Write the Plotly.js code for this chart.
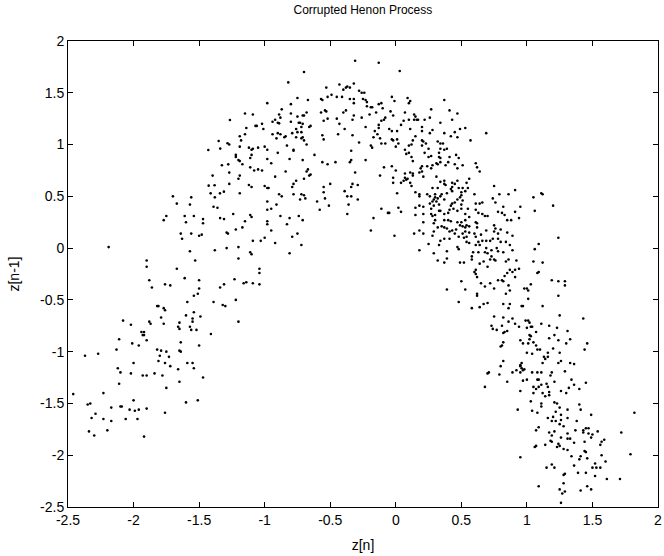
<!DOCTYPE html>
<html>
<head>
<meta charset="utf-8">
<script src="https://cdn.plot.ly/plotly-3.0.1.min.js"></script>
<style>html,body{margin:0;padding:0;background:#fff;}#chart{width:664px;height:556px;}</style>
</head>
<body>
<div id="chart"></div>
<script>
// Points, grouped by region of the picture: [z[n], z[n-1]]
const upperLeftEdge = [[-1.265,1.237],[-1.43,0.948],[-1.351,1.035],[-1.339,0.961],[-1.283,1.012],[-1.326,0.8],[-1.278,0.809],[-1.397,0.7],[-1.27,0.729],[-1.427,0.603],[-1.382,0.607],[-1.27,0.62],[-1.412,0.529],[-1.341,0.529],[-1.311,0.545]];
const upperLeft = [[-0.31,1.81],[-0.70,1.70],[-0.82,1.60],[-0.98,1.40],[-0.75,1.45],[-0.67,1.43],[-0.80,1.39],[-0.53,1.55],[-0.43,1.58],[-0.40,1.53],[-0.38,1.55],[-0.37,1.56],[-0.35,1.55],[-0.32,1.59],[-0.28,1.52],[-0.26,1.50],[-0.24,1.50],[-0.25,1.44],[-0.23,1.43],[-0.22,1.41],[-0.22,1.37],[-0.19,1.36],[-0.18,1.36],[-0.32,1.44],[-0.32,1.40],[-0.35,1.44],[-0.41,1.46],[-0.45,1.46],[-0.49,1.48],[-0.52,1.46],[-0.57,1.44],[-0.56,1.43],[-0.54,1.33],[-0.53,1.32],[-0.57,1.31],[-0.40,1.31],[-0.38,1.33],[-0.32,1.28],[-0.33,1.24],[-0.26,1.26],[-0.20,1.29],[-0.23,1.17],[-0.17,1.07],[-0.19,0.99],[-0.18,0.97],[-0.28,1.02],[-0.33,1.09],[-0.39,1.15],[-0.44,1.10],[-0.43,1.20],[-0.45,1.25],[-0.52,1.25],[-0.55,1.23],[-0.56,1.09],[-0.55,1.05],[-0.62,0.90],[-0.56,0.83],[-0.52,0.81],[-0.46,0.83],[-0.34,0.94],[-0.34,0.85],[-0.35,0.83],[-0.23,0.85],[-0.31,0.73],[-0.33,0.62],[-0.34,0.59],[-0.29,0.61],[-0.39,0.55],[-0.50,0.62],[-0.55,0.59],[-0.55,0.54],[-0.87,1.34],[-0.89,1.29],[-0.88,1.26],[-0.92,1.24],[-0.94,1.22],[-0.90,1.21],[-0.89,1.205],[-0.80,1.30],[-0.75,1.27],[-0.71,1.28],[-0.70,1.28],[-0.68,1.31],[-0.80,1.22],[-0.74,1.21],[-0.73,1.21],[-0.71,1.20],[-0.65,1.18],[-0.66,1.17],[-0.72,1.17],[-0.76,1.15],[-0.79,1.11],[-0.76,1.07],[-0.75,1.12],[-0.72,1.12],[-0.71,1.07],[-0.72,1.06],[-0.70,1.04],[-0.68,1.00],[-0.83,0.99],[-0.84,1.08],[-0.85,1.07],[-0.88,1.10],[-0.90,1.11],[-0.94,1.10],[-0.91,1.06],[-0.90,0.92],[-0.81,0.86],[-0.78,0.94],[-0.78,0.95],[-0.71,0.85],[-0.68,0.74],[-0.67,0.76],[-0.65,0.71],[-0.66,0.70],[-0.70,0.67],[-0.76,0.65],[-0.78,0.62],[-0.79,0.59],[-0.84,0.74],[-0.92,0.69],[-0.98,0.58],[-1.00,0.60],[-0.97,0.58],[-0.89,0.52],[-0.78,0.52],[-0.72,0.52],[-1.15,1.30],[-1.09,1.29],[-1.14,1.16],[-1.07,1.18],[-1.06,1.18],[-1.02,1.20],[-1.01,1.15],[-1.15,1.10],[-1.19,1.08],[-1.18,1.04],[-1.19,0.98],[-1.27,1.00],[-1.12,0.97],[-1.09,0.96],[-1.10,0.95],[-1.05,0.97],[-1.00,0.98],[-0.98,0.95],[-1.10,0.90],[-1.11,0.87],[-1.22,0.90],[-1.22,0.88],[-1.20,0.85],[-1.19,0.84],[-1.17,0.81],[-0.98,0.86],[-0.95,0.82],[-1.11,0.78],[-1.08,0.75],[-1.05,0.76],[-1.02,0.75],[-1.19,0.70],[-1.20,0.67],[-1.12,0.61],[-1.10,0.59],[-1.19,0.53]];
const upperRight = [[-0.13,1.79],[0.03,1.71],[-0.03,1.46],[-0.01,1.42],[0.09,1.45],[0.11,1.42],[0.10,1.40],[0.37,1.43],[-0.13,1.39],[-0.11,1.40],[-0.10,1.35],[-0.15,1.31],[-0.04,1.32],[-0.02,1.28],[-0.09,1.24],[-0.11,1.23],[-0.08,1.26],[-0.13,1.19],[-0.13,1.16],[-0.16,1.13],[-0.14,1.10],[-0.12,1.06],[-0.05,1.15],[-0.03,1.13],[0.01,1.13],[0.07,1.31],[0.06,1.23],[0.10,1.24],[0.14,1.29],[0.15,1.27],[0.14,1.24],[0.16,1.24],[0.17,1.24],[0.22,1.24],[0.27,1.34],[0.26,1.26],[0.41,1.33],[0.43,1.24],[0.47,1.30],[0.34,1.21],[0.20,1.17],[0.20,1.13],[0.28,1.14],[0.26,1.11],[0.11,1.15],[0.04,1.19],[-0.11,1.01],[-0.08,1.01],[-0.03,1.05],[-0.02,1.04],[0.01,1.05],[0.02,1.01],[0.00,0.98],[0.13,1.04],[0.15,1.08],[0.12,1.00],[0.10,0.99],[0.07,0.95],[0.08,0.91],[0.10,0.92],[0.12,0.88],[0.13,0.84],[0.20,1.04],[0.21,1.03],[0.20,0.99],[0.23,1.01],[0.25,0.96],[0.22,0.92],[0.25,0.88],[0.27,0.89],[0.32,1.03],[0.34,1.01],[0.36,1.01],[0.34,0.96],[0.37,0.95],[0.39,0.96],[0.33,0.92],[0.33,0.88],[0.34,0.87],[0.41,0.88],[0.42,1.08],[0.45,1.12],[0.49,1.15],[0.53,1.16],[0.47,1.07],[0.37,1.11],[0.57,1.04],[0.69,1.11],[0.46,0.90],[0.48,0.87],[0.45,0.81],[0.47,0.77],[0.51,0.80],[0.40,0.83],[0.38,0.80],[0.34,0.83],[0.32,0.81],[0.31,0.82],[0.28,0.80],[0.27,0.77],[0.24,0.79],[0.20,0.79],[0.19,0.77],[0.20,0.74],[0.21,0.69],[0.18,0.73],[0.13,0.72],[0.11,0.73],[0.13,0.70],[0.09,0.67],[0.07,0.68],[0.06,0.65],[0.04,0.63],[0.08,0.66],[0.11,0.63],[0.12,0.60],[0.00,0.75],[-0.09,0.78],[-0.03,0.79],[-0.02,0.68],[-0.12,0.70],[-0.02,0.63],[0.07,0.72],[0.31,0.69],[0.34,0.64],[0.37,0.65],[0.37,0.62],[0.38,0.61],[0.43,0.63],[0.45,0.62],[0.47,0.65],[0.48,0.58],[0.51,0.58],[0.54,0.63],[0.55,0.58],[0.56,0.67],[0.61,0.82],[0.62,0.78],[0.64,0.74],[0.75,0.60],[0.91,0.56],[0.50,0.54],[0.43,0.59],[0.42,0.57],[0.32,0.58],[0.28,0.58],[0.30,0.52],[0.35,0.52],[0.15,0.54],[0.01,0.53],[0.18,0.52],[0.39,0.53],[0.60,0.52],[0.79,0.52],[0.86,0.52],[1.11,0.53]];
const leftArmUpper = [[-2.19,0.01],[-1.90,-0.12],[-1.90,-0.18],[-1.88,-0.31],[-1.86,-0.38],[-1.76,-0.35],[-1.72,-0.36],[-1.67,-0.20],[-1.61,-0.29],[-1.77,0.27],[-1.75,0.31],[-1.70,0.50],[-1.67,0.43],[-1.56,0.49],[-1.57,0.42],[-1.61,0.31],[-1.60,0.25],[-1.54,0.31],[-1.47,0.28],[-1.47,0.24],[-1.64,0.14],[-1.63,0.09],[-1.56,0.14],[-1.50,0.12],[-1.48,0.13],[-1.57,-0.03],[-1.53,-0.12],[-1.50,-0.31],[-1.50,-0.39],[-1.51,-0.44],[-1.54,-0.46],[-1.59,-0.52],[-1.60,-0.65],[-1.54,-0.62],[-1.55,-0.68],[-1.55,-0.71],[-1.52,-0.79],[-1.49,-0.66],[-1.57,-0.76],[-1.56,-0.79],[-1.65,-0.72],[-1.65,-0.78],[-1.66,-0.76],[-1.64,-0.91],[-1.65,-0.99],[-1.64,-1.00],[-1.50,-0.94],[-1.41,-0.83],[-1.39,-0.52],[-1.38,-0.02],[-1.34,-0.38],[-1.31,-0.35],[-1.32,-0.55],[-1.30,-0.56],[-1.29,0.00],[-1.29,0.15],[-1.28,0.14],[-1.31,0.28],[-1.34,0.29],[-1.36,0.39],[-1.39,0.40],[-1.38,0.49],[-1.82,-0.56],[-1.81,-0.56],[-1.77,-0.58],[-1.76,-0.60],[-1.79,-0.67],[-1.77,-0.73],[-1.88,-0.71],[-1.87,-0.73],[-1.94,-0.81],[-1.92,-0.81],[-1.92,-0.84],[-1.90,-0.89],[-1.93,-0.84],[-1.96,-0.94],[-2.01,-0.92],[-2.08,-0.70],[-2.02,-0.74],[-2.11,-0.88],[-2.13,-0.98],[-1.82,-0.98],[-1.79,-0.99],[-1.75,-1.00],[-2.27,-1.02]];
const centreLeft = [[-0.87,0.50],[-0.70,0.51],[-0.69,0.48],[-0.73,0.47],[-0.60,0.45],[-0.54,0.48],[-0.51,0.41],[-0.37,0.50],[-0.34,0.50],[-0.36,0.42],[-0.29,0.47],[-0.58,0.37],[-0.37,0.33],[-0.17,0.29],[-0.19,0.17],[-0.98,0.45],[-0.91,0.42],[-0.95,0.38],[-0.98,0.37],[-1.24,0.33],[-1.11,0.32],[-1.10,0.30],[-1.15,0.26],[-0.98,0.26],[-0.98,0.23],[-0.88,0.31],[-0.81,0.29],[-0.83,0.23],[-0.74,0.31],[-0.71,0.27],[-1.17,0.20],[-1.22,0.18],[-0.95,0.17],[-0.75,0.14],[-0.79,0.11],[-1.00,0.10],[-1.03,0.07],[-1.09,0.07],[-0.92,0.05],[-0.72,0.03],[-0.81,-0.05],[-1.20,0.01],[-1.11,-0.04],[-1.10,-0.06],[-1.20,-0.10],[-1.04,-0.20],[-1.04,-0.24],[-1.23,-0.30],[-1.16,-0.34],[-1.14,-0.33],[-1.09,-0.34],[-1.04,-0.35],[-1.22,-0.50],[-1.20,-0.71]];
const centreRight = [[0.18,0.50],[0.24,0.52],[0.26,0.50],[0.34,0.50],[0.30,0.49],[0.32,0.48],[0.29,0.47],[0.31,0.45],[0.28,0.45],[0.26,0.43],[0.37,0.47],[0.33,0.42],[0.29,0.41],[0.43,0.55],[0.50,0.51],[0.53,0.55],[0.49,0.49],[0.47,0.47],[0.45,0.44],[0.43,0.43],[0.42,0.41],[0.51,0.46],[0.50,0.42],[0.61,0.43],[0.64,0.43],[0.66,0.44],[0.55,0.38],[0.63,0.34],[0.66,0.33],[0.68,0.31],[0.70,0.31],[0.61,0.37],[0.74,0.48],[0.76,0.44],[0.82,0.40],[0.78,0.35],[0.81,0.34],[0.83,0.32],[0.85,0.27],[0.88,0.27],[0.91,0.35],[0.95,0.40],[0.94,0.29],[-0.11,0.38],[-0.06,0.34],[-0.05,0.34],[0.02,0.39],[0.04,0.35],[0.15,0.39],[0.18,0.41],[0.21,0.40],[0.15,0.32],[0.21,0.33],[0.27,0.38],[0.27,0.33],[0.28,0.31],[0.30,0.32],[0.33,0.36],[0.34,0.36],[0.37,0.33],[0.37,0.27],[0.40,0.34],[0.41,0.37],[0.44,0.38],[0.47,0.36],[0.50,0.38],[0.53,0.33],[0.56,0.30],[0.53,0.27],[0.50,0.25],[0.47,0.25],[0.42,0.26],[0.40,0.27],[0.30,0.27],[0.29,0.24],[0.21,0.25],[0.35,0.21],[0.32,0.20],[0.37,0.20],[0.39,0.19],[0.41,0.16],[0.43,0.17],[0.46,0.18],[0.49,0.22],[0.51,0.21],[0.53,0.20],[0.54,0.22],[0.56,0.21],[0.53,0.16],[0.56,0.15],[0.61,0.25],[0.62,0.24],[0.62,0.20],[0.51,0.14],[0.45,0.14],[0.48,0.11],[0.54,0.11],[0.60,0.14],[0.61,0.11],[0.65,0.13],[0.69,0.17],[0.75,0.22],[0.76,0.19],[0.75,0.16],[0.78,0.14],[0.80,0.18],[0.85,0.15],[0.89,0.12],[0.87,0.03],[0.84,0.06],[0.80,0.06],[0.78,0.09],[0.74,0.09],[0.72,0.07],[0.69,0.07],[0.66,0.07],[0.64,0.03],[0.63,0.06],[0.61,0.03],[0.56,0.05],[0.54,0.06],[0.52,0.10],[0.47,0.01],[0.48,-0.01],[0.37,0.09],[0.34,0.07],[0.33,0.03],[0.41,0.09],[0.28,0.12],[0.29,0.16],[0.21,0.14],[0.14,0.14],[0.18,0.17],[-0.01,0.12],[0.25,0.04],[0.18,-0.02],[0.29,-0.05],[0.39,-0.03],[0.39,-0.10],[0.32,-0.12],[0.37,-0.14],[0.49,-0.14],[0.52,-0.14],[0.58,-0.11],[0.58,-0.08],[0.59,-0.04],[0.63,-0.04],[0.68,-0.04],[0.69,0.00],[0.70,-0.05],[0.73,-0.02],[0.77,0.00],[0.78,-0.03],[0.75,-0.11],[0.73,-0.08],[0.76,-0.12],[0.72,-0.11],[0.70,-0.18],[0.67,-0.13],[0.64,-0.15],[0.82,-0.04],[0.89,-0.02],[0.92,-0.12],[0.86,-0.11],[0.84,-0.13],[0.85,-0.24],[0.83,-0.27],[0.87,-0.21],[0.89,-0.23],[0.91,-0.21],[0.91,-0.28],[0.94,-0.20],[0.81,-0.31],[0.82,-0.32],[0.78,-0.31],[0.86,-0.36],[0.87,-0.41],[0.84,-0.44],[0.60,-0.23],[0.61,-0.25],[0.62,-0.28],[0.61,-0.21],[0.65,-0.34],[0.68,-0.37],[0.72,-0.34],[0.75,-0.39],[0.62,-0.44],[0.62,-0.46],[0.53,-0.40],[0.50,-0.32],[0.39,-0.40],[0.48,-0.52],[0.58,-0.58],[0.64,-0.57],[0.67,-0.54],[0.70,-0.53],[0.82,-0.54],[0.87,-0.54],[0.86,-0.58],[0.75,-0.66],[0.82,-0.67],[0.86,-0.71],[0.89,-0.68],[0.91,-0.73],[0.94,-0.76],[0.73,-0.75],[0.74,-0.78],[0.77,-0.79],[0.81,-0.75],[0.82,-0.82],[0.83,-0.81],[0.85,-0.80],[0.81,-0.94],[0.82,-0.91],[0.80,-0.95]];
const rightArmUpper = [[1.05,0.49],[1.12,0.52],[1.06,0.36],[1.20,0.41],[1.24,0.10],[1.09,0.04],[1.06,-0.01],[1.05,-0.13],[1.12,-0.14],[1.08,-0.24],[1.09,-0.23],[1.19,-0.31],[1.24,-0.32],[1.29,-0.32],[1.29,-0.36],[1.03,-0.35],[0.98,-0.39],[1.00,-0.39],[1.01,-0.41],[1.01,-0.49],[1.24,-0.46],[0.96,-0.56],[0.97,-0.56],[1.12,-0.56],[1.25,-0.65],[1.43,-0.68],[0.99,-0.70],[1.01,-0.70],[1.02,-0.72],[1.03,-0.76],[1.00,-0.77],[1.04,-0.76],[1.07,-0.81],[1.11,-0.73],[1.17,-0.75],[1.23,-0.77],[1.31,-0.80],[1.02,-0.84],[1.03,-0.85],[1.02,-0.88],[0.95,-0.89],[0.97,-0.92],[1.01,-0.92],[1.05,-0.91],[1.07,-0.94],[1.17,-0.87],[1.21,-0.84],[1.24,-0.89],[1.33,-0.88],[1.30,-0.92],[1.46,-0.92],[1.44,-0.98],[1.08,-0.98],[1.10,-0.98],[1.20,-0.97],[1.00,-1.01],[1.04,-1.02],[1.16,-1.01],[1.25,-1.01]];
const leftArmLower = [[-2.37,-1.04],[-1.73,-1.05],[-1.80,-1.04],[-2.00,-1.11],[-2.12,-1.16],[-2.10,-1.20],[-2.02,-1.21],[-1.93,-1.23],[-1.90,-1.23],[-1.84,-1.21],[-1.81,-1.09],[-1.76,-1.11],[-1.72,-1.14],[-1.78,-1.23],[-1.66,-1.17],[-1.59,-1.11],[-1.55,-1.11],[-1.54,-1.16],[-1.65,-1.29],[-1.47,-1.25],[-2.11,-1.31],[-2.46,-1.41],[-2.23,-1.40],[-1.75,-1.35],[-2.35,-1.51],[-2.33,-1.50],[-2.00,-1.47],[-1.60,-1.49],[-1.51,-1.47],[-2.32,-1.64],[-2.29,-1.60],[-2.17,-1.54],[-2.10,-1.53],[-2.09,-1.53],[-2.03,-1.56],[-1.99,-1.57],[-1.96,-1.56],[-1.90,-1.55],[-1.76,-1.59],[-2.23,-1.65],[-2.17,-1.67],[-2.06,-1.65],[-1.97,-1.65],[-2.34,-1.77],[-2.30,-1.81],[-2.20,-1.76],[-1.92,-1.82]];
const rightArmLower = [[0.68,-1.34],[0.70,-1.21],[0.71,-1.20],[0.79,-1.22],[0.80,-1.14],[0.82,-1.09],[0.85,-1.29],[0.89,-1.20],[0.92,-1.18],[0.95,-1.13],[0.93,-1.56],[0.95,-2.02],[1.13,-1.05],[1.16,-1.05],[1.14,-1.07],[1.12,-1.11],[0.96,-1.11],[0.95,-1.14],[0.96,-1.16],[0.95,-1.20],[0.97,-1.18],[0.98,-1.17],[1.04,-1.20],[1.08,-1.20],[1.11,-1.20],[1.19,-1.20],[1.18,-1.23],[1.24,-1.11],[1.26,-1.09],[1.33,-1.11],[1.36,-1.12],[1.29,-1.19],[0.97,-1.28],[1.00,-1.27],[1.08,-1.27],[1.09,-1.27],[1.15,-1.31],[1.11,-1.32],[1.09,-1.34],[1.05,-1.34],[1.07,-1.36],[1.16,-1.34],[1.21,-1.29],[1.34,-1.27],[1.36,-1.32],[1.40,-1.36],[1.45,-1.30],[1.32,-1.35],[1.30,-1.40],[1.26,-1.38],[0.95,-1.38],[1.05,-1.40],[1.12,-1.40],[1.14,-1.43],[1.17,-1.39],[1.17,-1.42],[1.03,-1.48],[1.11,-1.50],[1.11,-1.53],[1.21,-1.49],[1.23,-1.50],[1.25,-1.54],[1.22,-1.58],[1.31,-1.56],[1.40,-1.51],[1.41,-1.56],[1.04,-1.57],[1.08,-1.59],[1.16,-1.64],[1.20,-1.63],[1.19,-1.67],[1.22,-1.67],[1.26,-1.61],[1.26,-1.66],[1.31,-1.64],[1.38,-1.67],[1.49,-1.61],[1.82,-1.59],[1.25,-1.70],[1.28,-1.72],[1.07,-1.76],[1.09,-1.73],[1.37,-1.76],[1.43,-1.76],[1.45,-1.74],[1.47,-1.74],[1.43,-1.78],[1.47,-1.79],[1.50,-1.80],[1.54,-1.77],[1.31,-1.79],[1.17,-1.78],[1.21,-1.77],[1.19,-1.81],[1.31,-1.84],[1.33,-1.84],[1.26,-1.83],[1.18,-1.86],[1.19,-1.87],[1.24,-1.89],[1.23,-1.92],[1.25,-1.91],[1.28,-1.94],[1.31,-1.95],[1.36,-1.88],[1.44,-1.87],[1.49,-1.83],[1.57,-1.87],[1.59,-1.85],[1.56,-1.90],[1.72,-1.78],[1.07,-1.91],[1.06,-1.92],[1.14,-1.90],[1.34,-2.01],[1.41,-2.01],[1.40,-2.04],[1.44,-1.96],[1.45,-1.97],[1.46,-2.03],[1.57,-2.00],[1.52,-2.08],[1.60,-2.06],[1.50,-2.12],[1.53,-2.12],[1.56,-2.12],[1.45,-2.17],[1.39,-2.17],[1.36,-2.10],[1.19,-2.09],[1.21,-2.12],[1.15,-2.12],[1.29,-2.18],[1.28,-2.19],[1.52,-2.20],[1.61,-2.23],[1.71,-2.23],[1.79,-1.99],[1.09,-2.30],[1.28,-2.27],[1.25,-2.33],[1.29,-2.35],[1.27,-2.37],[1.46,-2.30],[1.49,-2.33],[1.41,-2.34],[1.26,-2.46]];

const tickValues = [-2.5, -2, -1.5, -1, -0.5, 0, 0.5, 1, 1.5, 2];
const tickLabels = tickValues.map(v => String(v));
const chartTitle = 'Corrupted Henon Process';
const xLabel = 'z[n]';
const yLabel = 'z[n-1]';

const all = [].concat(upperLeftEdge, upperLeft, upperRight, leftArmUpper, centreLeft,
                      centreRight, rightArmUpper, leftArmLower, rightArmLower);

const FONT = 'Liberation Sans, Arial, Helvetica, sans-serif';
const axisCommon = {
  range: [-2.5, 2], tickmode: 'array', tickvals: tickValues, ticktext: tickLabels,
  ticks: 'inside', ticklen: 5, tickwidth: 1, tickcolor: '#000',
  showline: true, linecolor: '#000', linewidth: 1, mirror: 'ticks',
  showgrid: false, zeroline: false,
  tickfont: {family: FONT, size: 14, color: '#000'}
};

Plotly.newPlot('chart', [{
  type: 'scatter', mode: 'markers',
  x: all.map(p => p[0]), y: all.map(p => p[1]),
  marker: {color: '#000', size: 2.6},
  hoverinfo: 'x+y'
}], {
  width: 664, height: 556,
  margin: {l: 68, r: 6, t: 41, b: 49, pad: 0},
  paper_bgcolor: '#fff', plot_bgcolor: '#fff',
  showlegend: false,
  title: {text: chartTitle, font: {family: FONT, size: 12, color: '#000'},
          x: 0.5465, xanchor: 'center', y: 0.982, yanchor: 'middle'},
  xaxis: Object.assign({}, axisCommon, {title: {text: xLabel, font: {family: FONT, size: 14, color: '#000'}, standoff: 13}}),
  yaxis: Object.assign({}, axisCommon, {title: {text: yLabel, font: {family: FONT, size: 14, color: '#000'}, standoff: 17}})
}, {displayModeBar: false, staticPlot: true});
</script>
</body>
</html>
